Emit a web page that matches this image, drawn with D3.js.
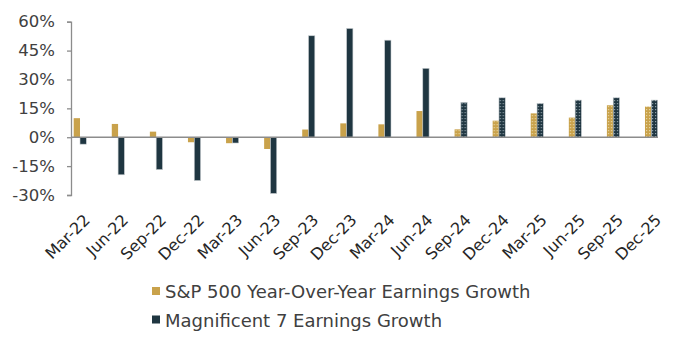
<!DOCTYPE html>
<html>
<head>
<meta charset="utf-8">
<script src="https://cdn.jsdelivr.net/npm/d3@7"></script>
<style>
  html, body { margin: 0; padding: 0; background: #fff; }
  svg { display: block; font-family: "DejaVu Sans", Verdana, sans-serif; }
</style>
</head>
<body>
<svg id="chart" width="675" height="337"></svg>
<script>
const categories = ["Mar-22","Jun-22","Sep-22","Dec-22","Mar-23","Jun-23","Sep-23","Dec-23","Mar-24","Jun-24","Sep-24","Dec-24","Mar-25","Jun-25","Sep-25","Dec-25"];
const sp500Growth = [9.9, 6.9, 2.9, -2.6, -3.1, -6.1, 4.0, 7.2, 6.7, 13.6, 4.1, 8.6, 12.4, 10.2, 16.6, 15.9];
const mag7Growth = [-3.6, -19.5, -16.8, -22.5, -3.0, -29.2, 52.7, 56.5, 50.4, 35.8, 18.1, 20.5, 17.6, 19.3, 20.5, 19.3];
const estimateFrom = "Sep-24";
const seriesNames = ["S&P 500 Year-Over-Year Earnings Growth", "Magnificent 7 Earnings Growth"];
const yTicks = [-30, -15, 0, 15, 30, 45, 60];

const colors = ["#C9A24B", "#1F3641"];

const svg = d3.select("#chart");
const defs = svg.append("defs");
colors.forEach((c, i) => {
  const p = defs.append("pattern").attr("id", "pat" + i)
    .attr("patternUnits", "userSpaceOnUse").attr("width", 3).attr("height", 3);
  p.append("rect").attr("width", 3).attr("height", 3).attr("fill", c);
  p.append("rect").attr("x", 1).attr("y", 1).attr("width", 1.2).attr("height", 1.2)
    .attr("fill", i === 0 ? "#E6D3A0" : "#8FA0A8");
});

const axisX = 71;
const y = d3.scaleLinear().domain([-30, 60]).range([195, 21.7]);
const x = d3.scaleBand().domain(categories).range([73.7, 657.6]).paddingInner(0.669).paddingOuter(0);
const x1 = d3.scaleBand().domain([0, 1]).range([0, x.bandwidth()]);

// y axis
const yAxis = d3.axisLeft(y).tickValues(yTicks).tickFormat(d => d + "%").tickSize(4).tickPadding(12);
const gy = svg.append("g").attr("transform", `translate(${axisX},0)`).call(yAxis);
gy.select(".domain").attr("stroke", "#8c8c8c").attr("stroke-width", 1.3);
gy.selectAll(".tick line").attr("stroke", "#8c8c8c").attr("stroke-width", 1.3);
gy.selectAll(".tick text").attr("fill", "#404040").attr("font-size", 16.5).attr("font-family", "DejaVu Sans, Verdana, sans-serif");

// bars
const data = categories.map((c, i) => ({ c, vals: [sp500Growth[i], mag7Growth[i]], est: categories.indexOf(c) >= categories.indexOf(estimateFrom) }));
const groups = svg.append("g").selectAll("g").data(data).join("g")
  .attr("transform", d => `translate(${x(d.c)},0)`);
groups.selectAll("rect").data(d => d.vals.map((v, k) => ({ v, k, est: d.est }))).join("rect")
  .attr("x", d => x1(d.k))
  .attr("width", x1.bandwidth())
  .attr("y", d => Math.min(y(d.v), y(0)))
  .attr("height", d => Math.abs(y(d.v) - y(0)))
  .attr("fill", d => d.est ? `url(#pat${d.k})` : colors[d.k])
  .attr("stroke", d => d.k === 1 ? "#c8ced1" : "none")
  .attr("stroke-width", 0.6);

// zero line
svg.append("line").attr("x1", axisX).attr("x2", 658).attr("y1", y(0)).attr("y2", y(0))
  .attr("stroke", "#8c8c8c").attr("stroke-width", 1.3);

// x labels
svg.append("g").selectAll("text").data(categories).join("text")
  .attr("transform", c => `translate(${x(c) + x.bandwidth() / 2 + 11},221) rotate(-45)`)
  .attr("text-anchor", "end")
  .attr("font-size", 16)
  .attr("fill", "#262626")
  .text(c => c);

// legend
const legend = svg.append("g");
seriesNames.forEach((n, i) => {
  const base = 298 + i * 28.5;
  legend.append("rect").attr("x", 152).attr("y", base - 11).attr("width", 8).attr("height", 8).attr("fill", colors[i]);
  legend.append("text").attr("x", 165).attr("y", base).attr("font-size", 18).attr("fill", "#404040").text(n);
});
</script>
</body>
</html>
